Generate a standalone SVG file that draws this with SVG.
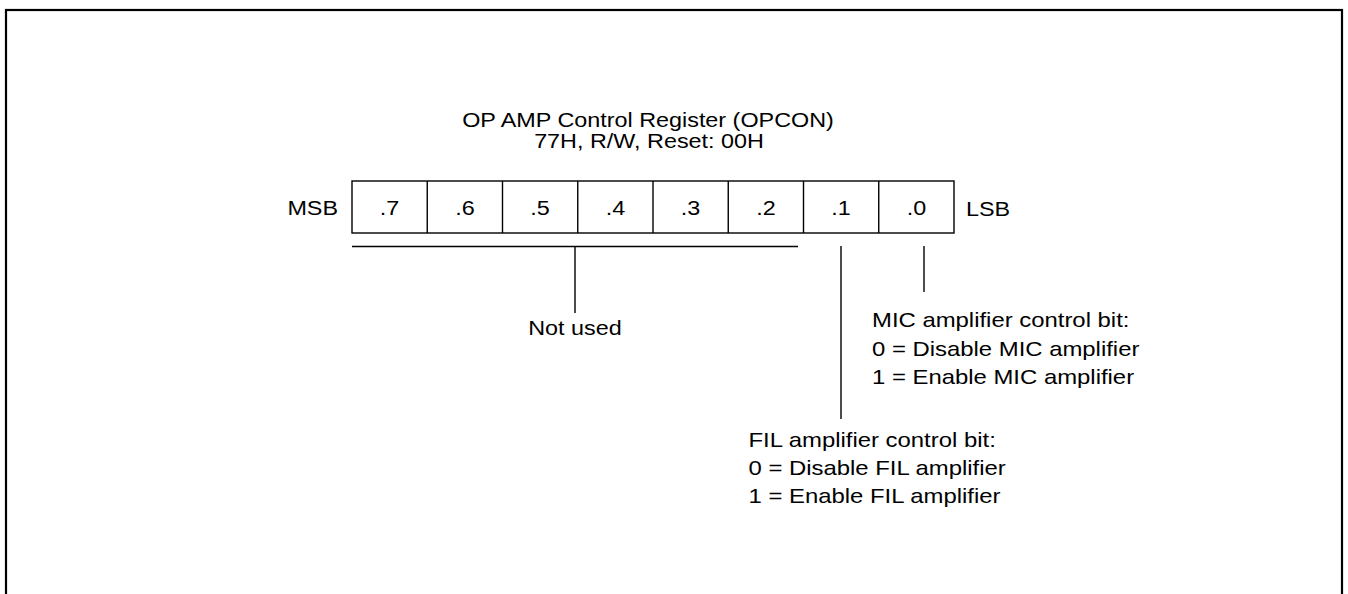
<svg xmlns="http://www.w3.org/2000/svg" width="1348" height="594" viewBox="0 0 1348 594">
<style>
.t{font-family:"Liberation Sans",Arial,sans-serif;fill:#000;}
.b{font-size:20.5px;}
.s{font-size:20px;}
.m{text-anchor:middle;}
.e{text-anchor:end;}
.ln{stroke:#000;stroke-width:1.4;fill:none;}
</style>
<rect x="6" y="10" width="1336" height="620" fill="none" stroke="#000" stroke-width="2.2"/>
<g id="title">
<text class="t b m" transform="translate(648,127) scale(1.14,1)">OP AMP Control Register (OPCON)</text>
<text class="t b m" transform="translate(649,148) scale(1.14,1)">77H, R/W, Reset: 00H</text>
</g>
<g id="register">
<rect class="ln" x="352" y="181" width="602" height="52"/>
<line class="ln" x1="427.25" y1="181" x2="427.25" y2="233"/>
<line class="ln" x1="502.5" y1="181" x2="502.5" y2="233"/>
<line class="ln" x1="577.75" y1="181" x2="577.75" y2="233"/>
<line class="ln" x1="653" y1="181" x2="653" y2="233"/>
<line class="ln" x1="728.25" y1="181" x2="728.25" y2="233"/>
<line class="ln" x1="803.5" y1="181" x2="803.5" y2="233"/>
<line class="ln" x1="878.75" y1="181" x2="878.75" y2="233"/>
<text class="t b m" transform="translate(389.6,215) scale(1.14,1)">.7</text>
<text class="t b m" transform="translate(464.9,215) scale(1.14,1)">.6</text>
<text class="t b m" transform="translate(540.1,215) scale(1.14,1)">.5</text>
<text class="t b m" transform="translate(615.4,215) scale(1.14,1)">.4</text>
<text class="t b m" transform="translate(690.6,215) scale(1.14,1)">.3</text>
<text class="t b m" transform="translate(765.9,215) scale(1.14,1)">.2</text>
<text class="t b m" transform="translate(841.1,215) scale(1.14,1)">.1</text>
<text class="t b m" transform="translate(916.4,215) scale(1.14,1)">.0</text>
<text class="t b e" transform="translate(338,215) scale(1.14,1)">MSB</text>
<text class="t b" transform="translate(966,215.5) scale(1.14,1)">LSB</text>
</g>
<g id="connectors">
<line class="ln" x1="352" y1="246.5" x2="798" y2="246.5"/>
<line class="ln" x1="575" y1="246.5" x2="575" y2="313"/>
<line class="ln" x1="841" y1="246" x2="841" y2="419"/>
<line class="ln" x1="924" y1="246" x2="924" y2="292"/>
</g>
<g id="not-used">
<text class="t b m" transform="translate(575,335) scale(1.14,1)">Not used</text>
</g>
<g id="mic">
<text class="t s" transform="translate(872,327) scale(1.195,1)">MIC amplifier control bit:</text>
<text class="t s" transform="translate(872,355.5) scale(1.195,1)">0 = Disable MIC amplifier</text>
<text class="t s" transform="translate(872,384) scale(1.195,1)">1 = Enable MIC amplifier</text>
</g>
<g id="fil">
<text class="t s" transform="translate(748.5,447) scale(1.195,1)">FIL amplifier control bit:</text>
<text class="t s" transform="translate(748.5,475) scale(1.195,1)">0 = Disable FIL amplifier</text>
<text class="t s" transform="translate(748.5,502.5) scale(1.195,1)">1 = Enable FIL amplifier</text>
</g>
</svg>
